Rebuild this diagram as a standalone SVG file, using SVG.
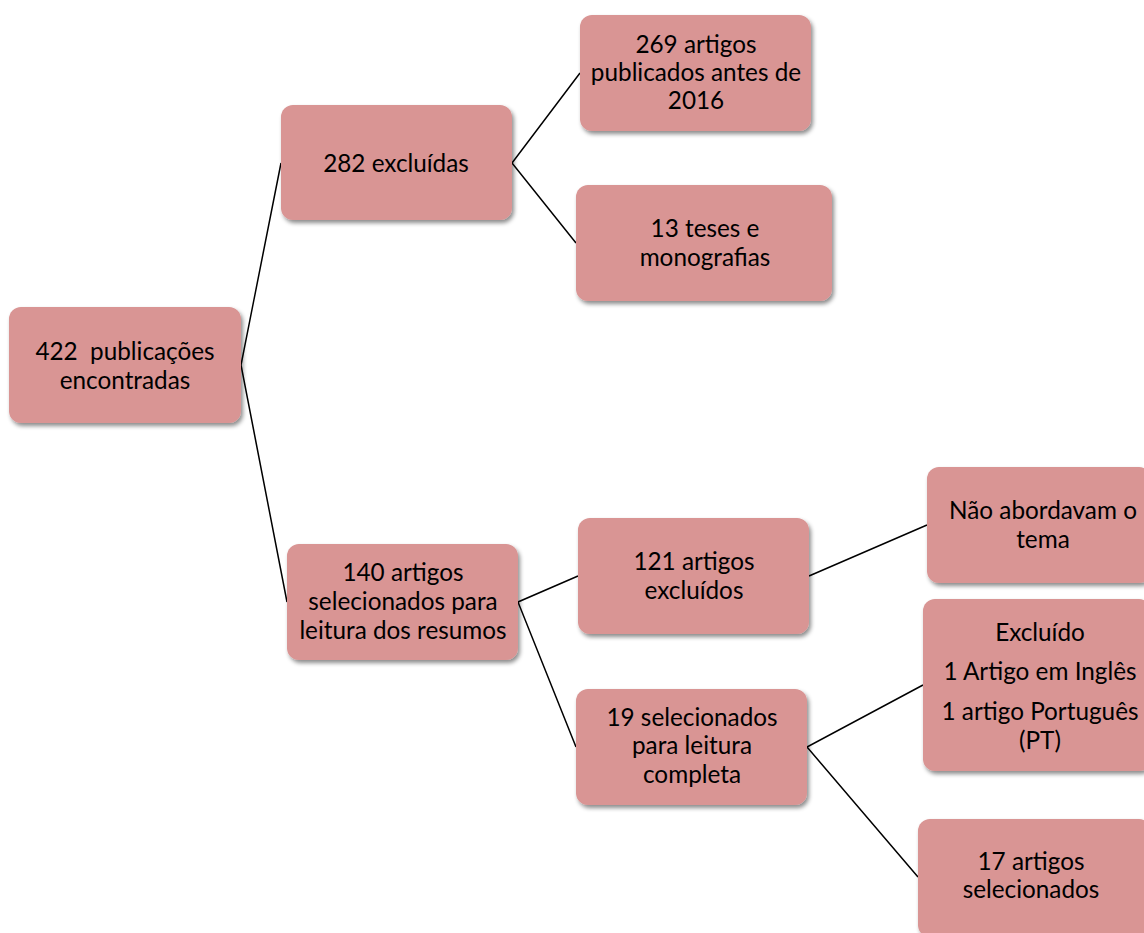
<svg xmlns="http://www.w3.org/2000/svg" width="1144" height="933" viewBox="0 0 1144 933">
<style>
.box{fill:#D99594;filter:url(#sh)}
.t{font-family:Lato,"Open Sans","Liberation Sans",sans-serif;font-size:24.3px;fill:#000;text-anchor:middle;white-space:pre}
.c{stroke:#000;stroke-width:1.5;fill:none}
</style>
<defs>
<filter id="sh" x="-10%" y="-10%" width="125%" height="130%">
<feDropShadow dx="2" dy="3" stdDeviation="2" flood-color="#000" flood-opacity="0.45"/>
</filter>
</defs>
<rect width="1144" height="933" fill="#fff"/>
<g id="connectors">
<polyline class="c" points="281,163 241,365 287,602"/>
<polyline class="c" points="580,73 512,163 576,243"/>
<polyline class="c" points="578,576 518,602 576,747"/>
<line class="c" x1="809" y1="576" x2="927" y2="525"/>
<polyline class="c" points="923,685 807,747 918,877"/>
</g>
<g id="n1"><rect class="box" x="9" y="307" width="232" height="116" rx="12"/>
<text class="t" x="125" y="360" xml:space="preserve">422  publicações</text><text class="t" x="125" y="389">encontradas</text></g>
<g id="n2"><rect class="box" x="281" y="105" width="231" height="115" rx="12"/>
<text class="t" x="396" y="172">282 excluídas</text></g>
<g id="n3"><rect class="box" x="580" y="15" width="231" height="116" rx="12"/>
<text class="t" x="696" y="53">269 artigos</text><text class="t" x="696" y="81">publicados antes de</text><text class="t" x="696" y="109">2016</text></g>
<g id="n4"><rect class="box" x="576" y="185" width="256" height="116" rx="12"/>
<text class="t" x="705" y="237">13 teses e</text><text class="t" x="705" y="266">monografias</text></g>
<g id="n5"><rect class="box" x="287" y="544" width="231" height="116" rx="12"/>
<text class="t" x="403" y="581">140 artigos</text><text class="t" x="403" y="610">selecionados para</text><text class="t" x="403" y="639">leitura dos resumos</text></g>
<g id="n6"><rect class="box" x="578" y="518" width="231" height="116" rx="12"/>
<text class="t" x="694" y="570">121 artigos</text><text class="t" x="694" y="599">excluídos</text></g>
<g id="n7"><rect class="box" x="576" y="689" width="231" height="116" rx="12"/>
<text class="t" x="692" y="726">19 selecionados</text><text class="t" x="692" y="754">para leitura</text><text class="t" x="692" y="783">completa</text></g>
<g id="n8"><rect class="box" x="927" y="467" width="224" height="116" rx="12"/>
<text class="t" x="1043" y="519">Não abordavam o</text><text class="t" x="1043" y="548">tema</text></g>
<g id="n9"><rect class="box" x="923" y="599" width="228" height="172" rx="12"/>
<text class="t" x="1040" y="641">Excluído</text><text class="t" x="1040" y="680">1 Artigo em Inglês</text><text class="t" x="1040" y="720">1 artigo Português</text><text class="t" x="1040" y="749">(PT)</text></g>
<g id="n10"><rect class="box" x="918" y="819" width="233" height="118" rx="12"/>
<text class="t" x="1031" y="870">17 artigos</text><text class="t" x="1031" y="898">selecionados</text></g>
</svg>
